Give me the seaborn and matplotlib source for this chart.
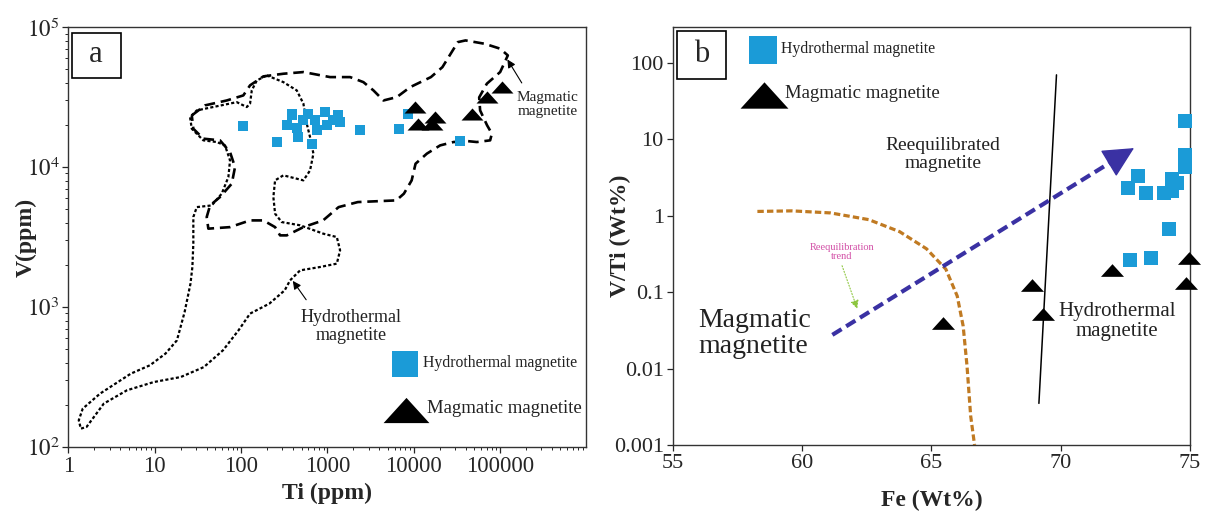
#!/usr/bin/env python3

import numpy as np
import matplotlib
matplotlib.use("Agg")
import matplotlib.pyplot as plt
from matplotlib.patches import Rectangle
from matplotlib.ticker import FixedLocator, NullLocator, LogLocator, NullFormatter
import seaborn as sns

# ---- panel a : Ti vs V (ppm) ----
hyd_a_ti = [105, 258, 337, 385, 390, 440, 460, 525, 600, 656, 720, 755, 940, 980,
            1170, 1340, 1400, 2400, 6800, 8500, 34000]
hyd_a_v = [19500, 15100, 19900, 23400, 24000, 19000, 16300, 21600, 24100, 14700,
           21600, 18300, 24700, 19900, 21600, 23400, 21000, 18300, 18700, 24000, 15400]
mag_a_ti = [10400, 11300, 17700, 16200, 47000, 70000, 105000]
mag_a_v = [26800, 20400, 22700, 20400, 24000, 31600, 37300]

# field outlines, log10 values (Ti, V)
magfield_log_ti = [1.428, 1.582, 1.833, 2.025, 2.103, 2.257, 2.489, 2.721, 3.030, 3.262,
                   3.416, 3.532, 3.648, 3.803, 3.957, 4.198, 4.331, 4.510, 4.599, 4.822,
                   5.000, 5.089, 5.000, 4.846, 4.757, 4.768, 4.849, 4.904, 4.884, 4.730,
                   4.614, 4.459, 4.305, 4.151, 4.020, 3.975, 3.885, 3.797, 3.351, 3.129,
                   2.949, 2.721, 2.528, 2.451, 2.393, 2.257, 2.103, 1.871, 1.620, 1.601,
                   1.640, 1.755, 1.891, 1.929, 1.871, 1.755, 1.562, 1.446]
magfield_log_v = [4.369, 4.441, 4.476, 4.512, 4.584, 4.648, 4.667, 4.679, 4.643, 4.643,
                  4.607, 4.548, 4.476, 4.500, 4.571, 4.643, 4.714, 4.893, 4.905, 4.881,
                  4.846, 4.798, 4.679, 4.596, 4.498, 4.405, 4.298, 4.239, 4.191, 4.179,
                  4.186, 4.179, 4.155, 4.096, 4.024, 3.905, 3.810, 3.762, 3.750, 3.714,
                  3.619, 3.571, 3.512, 3.512, 3.571, 3.619, 3.619, 3.571, 3.560, 3.643,
                  3.726, 3.786, 3.881, 4.000, 4.107, 4.191, 4.203, 4.274]
hydfield_log_ti = [2.297, 2.489, 2.644, 2.721, 2.760, 2.798, 2.837, 2.798, 2.721, 2.489,
                   2.393, 2.373, 2.393, 2.470, 2.683, 2.952, 3.108, 3.146, 3.108, 2.914,
                   2.683, 2.567, 2.504, 2.326, 2.103, 1.970, 1.790, 1.568, 1.301, 0.988,
                   0.677, 0.409, 0.209, 0.143, 0.119, 0.165, 0.365, 0.722, 0.944, 1.123,
                   1.256, 1.345, 1.413, 1.435, 1.446, 1.446, 1.486, 1.659, 1.775, 1.852,
                   1.871, 1.813, 1.717, 1.562, 1.428, 1.408, 1.486, 1.949, 2.065, 2.103,
                   2.123, 2.181]
hydfield_log_v = [4.655, 4.607, 4.548, 4.453, 4.310, 4.214, 4.096, 3.976, 3.905, 3.941,
                  3.905, 3.786, 3.667, 3.607, 3.584, 3.524, 3.500, 3.405, 3.310, 3.286,
                  3.262, 3.191, 3.119, 3.024, 2.953, 2.834, 2.691, 2.571, 2.500, 2.464,
                  2.405, 2.310, 2.143, 2.131, 2.191, 2.274, 2.381, 2.524, 2.584, 2.667,
                  2.762, 2.964, 3.167, 3.286, 3.453, 3.643, 3.714, 3.726, 3.810, 3.929,
                  4.048, 4.155, 4.179, 4.191, 4.274, 4.357, 4.405, 4.464, 4.429, 4.453,
                  4.548, 4.619]
a_xticks = [1, 10, 100, 1000, 10000, 100000]
a_xlabels = ["1", "10", "100", "1000", "10000", "100000"]
a_yticks = [1e2, 1e3, 1e4, 1e5]
a_ylabels = ["$10^{2}$", "$10^{3}$", "$10^{4}$", "$10^{5}$"]

# ---- panel b : Fe vs V/Ti (wt%) ----
hyd_b_fe = [74.8, 74.8, 74.8, 72.6, 73.0, 73.3, 74.0, 74.3, 74.3, 74.5, 74.2, 72.7, 73.5]
hyd_b_vti = [17.2, 6.3, 4.4, 2.3, 3.3, 2.0, 2.0, 3.0, 2.1, 2.7, 0.68, 0.265, 0.28]
mag_b_fe = [65.45, 68.9, 69.3, 72.0, 74.95, 74.85]
mag_b_vti = [0.040, 0.125, 0.052, 0.196, 0.28, 0.131]
curve_fe = [58.27, 59.61, 61.10, 62.58, 63.77, 64.81, 65.56, 66.0, 66.23, 66.38, 66.52, 66.67]
curve_vti = [1.14, 1.16, 1.09, 0.89, 0.62, 0.37, 0.20, 0.089, 0.036, 0.0107, 0.0024, 0.001]
divide_fe = [69.84, 69.16]
divide_vti = [70, 0.0035]
trend_fe = [61.17, 72.2]
trend_vti = [0.0276, 5.7]
trend_tip = (72.84, 7.7)
b_xticks = [55, 60, 65, 70, 75]
b_yticks = [0.001, 0.01, 0.1, 1, 10, 100]
b_ylabels = ["0.001", "0.01", "0.1", "1", "10", "100"]

BLUE = "#1b9bd7"
tri = [(-1, -0.55), (1, -0.55), (0, 0.55)]

sns.set_style("ticks")
plt.rcParams["font.family"] = ["Liberation Serif", "DejaVu Serif"]
plt.rcParams["mathtext.fontset"] = "stix"

fig = plt.figure(figsize=(12.08, 5.12), dpi=100)
ax_a = fig.add_axes([0.0567, 0.127, 0.4288, 0.820])
ax_b = fig.add_axes([0.557, 0.131, 0.428, 0.816])

label_kw = dict(fontsize=17, fontweight="bold")

# ------------------- panel a -------------------
ax = ax_a
ax.set_xscale("log")
ax.set_yscale("log")
mx = 10 ** np.array(magfield_log_ti + magfield_log_ti[:1])
my = 10 ** np.array(magfield_log_v + magfield_log_v[:1])
ax.plot(mx, my, color="black", lw=1.9, ls=(0, (4, 2.2)))
hx = 10 ** np.array(hydfield_log_ti + hydfield_log_ti[:1])
hy = 10 ** np.array(hydfield_log_v + hydfield_log_v[:1])
ax.plot(hx, hy, color="black", lw=1.6, ls=(0, (1.4, 1.0)))

sns.scatterplot(x=hyd_a_ti, y=hyd_a_v, marker="s", s=55, color=BLUE,
                linewidth=0, ax=ax, zorder=3)
sns.scatterplot(x=mag_a_ti, y=mag_a_v, marker=tri, s=250, color="black",
                linewidth=0, ax=ax, zorder=4)

ax.set_xlim(1, 1e6)
ax.set_ylim(1e2, 1e5)
ax.xaxis.set_major_locator(FixedLocator(a_xticks))
ax.set_xticklabels(a_xlabels)
ax.xaxis.set_minor_locator(LogLocator(base=10, subs=np.arange(2, 10), numticks=20))
ax.xaxis.set_minor_formatter(NullFormatter())
ax.yaxis.set_major_locator(FixedLocator(a_yticks))
ax.set_yticklabels(a_ylabels)
ax.yaxis.set_minor_locator(LogLocator(base=10, subs=np.arange(2, 10), numticks=20))
ax.yaxis.set_minor_formatter(NullFormatter())
ax.tick_params(which="major", length=4.5, width=0.9, labelsize=16.5, pad=2)
ax.tick_params(which="minor", length=2.2, width=0.7)
ax.set_xlabel("Ti (ppm)", labelpad=4, **label_kw)
ax.set_ylabel("V(ppm)", **label_kw)
ax.yaxis.set_label_coords(-0.062, 0.5)

ax.add_patch(Rectangle((0.006, 0.880), 0.095, 0.107, transform=ax.transAxes,
                       fill=False, lw=1.2, ec="black", zorder=5))
ax.text(0.053, 0.936, "a", transform=ax.transAxes, ha="center", va="center", fontsize=22)

ax.annotate("", xy=(116700, 61100), xytext=(185000, 38400),
            arrowprops=dict(arrowstyle="-|>", color="black", lw=0.8, mutation_scale=12))
ax.text(0.925, 0.815, "Magmatic\nmagnetite", transform=ax.transAxes, ha="center",
        va="center", fontsize=11, color="#222222", linespacing=1.1)
ax.annotate("", xy=(380, 1596), xytext=(591, 1086),
            arrowprops=dict(arrowstyle="-|>", color="black", lw=0.8, mutation_scale=12))
ax.text(1877, 728, "Hydrothermal\nmagnetite", ha="center", va="center",
        fontsize=13, color="#222222", linespacing=1.1)

# legend keys
ax.scatter([0.650], [0.198], marker="s", s=360, color=BLUE, linewidth=0,
           transform=ax.transAxes, clip_on=False)
ax.text(0.684, 0.199, "Hydrothermal magnetite", transform=ax.transAxes,
        ha="left", va="center", fontsize=11.3, color="#222222")
ax.scatter([0.652], [0.089], marker=tri, s=1090, color="black", linewidth=0,
           transform=ax.transAxes, clip_on=False)
ax.text(0.692, 0.092, "Magmatic magnetite", transform=ax.transAxes,
        ha="left", va="center", fontsize=13.5, color="#222222")

# ------------------- panel b -------------------
ax = ax_b
ax.set_yscale("log")
ax.plot(curve_fe, curve_vti, color="#c07a22", lw=2.3, ls=(0, (2.0, 1.0)))
ax.plot(divide_fe, divide_vti, color="black", lw=1.1)
ax.plot(trend_fe, trend_vti, color="#3a31a3", lw=3.0, ls=(0, (2.6, 1.3)))
ax.annotate("", xy=trend_tip, xytext=(trend_fe[1], trend_vti[1]),
            arrowprops=dict(arrowstyle="-|>,head_length=1.1,head_width=0.55",
                            color="#3a31a3", lw=1, mutation_scale=18, shrinkA=0, shrinkB=0))
ax.annotate("", xy=(62.17, 0.056), xytext=(61.51, 0.24),
            arrowprops=dict(arrowstyle="-|>", color="#8dc63f", lw=0.8, ls=":",
                            mutation_scale=12))

sns.scatterplot(x=hyd_b_fe, y=hyd_b_vti, marker="s", s=100, color=BLUE,
                linewidth=0, ax=ax, zorder=3, clip_on=False)
sns.scatterplot(x=mag_b_fe, y=mag_b_vti, marker=tri, s=275, color="black",
                linewidth=0, ax=ax, zorder=4, clip_on=False)

ax.set_xlim(55, 75)
ax.set_ylim(0.001, 295)
ax.xaxis.set_major_locator(FixedLocator(b_xticks))
ax.yaxis.set_major_locator(FixedLocator(b_yticks))
ax.set_yticklabels(b_ylabels)
ax.yaxis.set_minor_locator(NullLocator())
ax.tick_params(which="major", length=4.5, width=0.9, labelsize=16, pad=2)
ax.set_xlabel("Fe (Wt%)", labelpad=12, **label_kw)
ax.set_ylabel("V/Ti (Wt%)", **label_kw)
ax.yaxis.set_label_coords(-0.08, 0.5)

ax.add_patch(Rectangle((0.008, 0.876), 0.094, 0.114, transform=ax.transAxes,
                       fill=False, lw=1.2, ec="black", zorder=5))
ax.text(0.055, 0.935, "b", transform=ax.transAxes, ha="center", va="center", fontsize=22)

ax.text(65.44, 6.3, "Reequilibrated\nmagnetite", ha="center", va="center",
        fontsize=14, color="#222222", linespacing=1.1)
ax.text(55.97, 0.029, "Magmatic\nmagnetite", ha="left", va="center",
        fontsize=20, color="#222222", linespacing=1.05)
ax.text(72.18, 0.041, "Hydrothermal\nmagnetite", ha="center", va="center",
        fontsize=15, color="#222222", linespacing=1.05)
ax.text(61.54, 0.34, "Reequilibration\ntrend", ha="center", va="center",
        fontsize=7.5, color="#d24fa6", linespacing=1.0)

ax.scatter([0.175], [0.946], marker="s", s=380, color=BLUE, linewidth=0,
           transform=ax.transAxes, clip_on=False)
ax.text(0.209, 0.947, "Hydrothermal magnetite", transform=ax.transAxes,
        ha="left", va="center", fontsize=11.3, color="#222222")
ax.scatter([0.176], [0.837], marker=tri, s=1190, color="black", linewidth=0,
           transform=ax.transAxes, clip_on=False)
ax.text(0.217, 0.842, "Magmatic magnetite", transform=ax.transAxes,
        ha="left", va="center", fontsize=13.5, color="#222222")

for a in (ax_a, ax_b):
    for sp in a.spines.values():
        sp.set_linewidth(1.0)
        sp.set_color("#333333")

fig.savefig("out.png", dpi=100)
plt.close(fig)
